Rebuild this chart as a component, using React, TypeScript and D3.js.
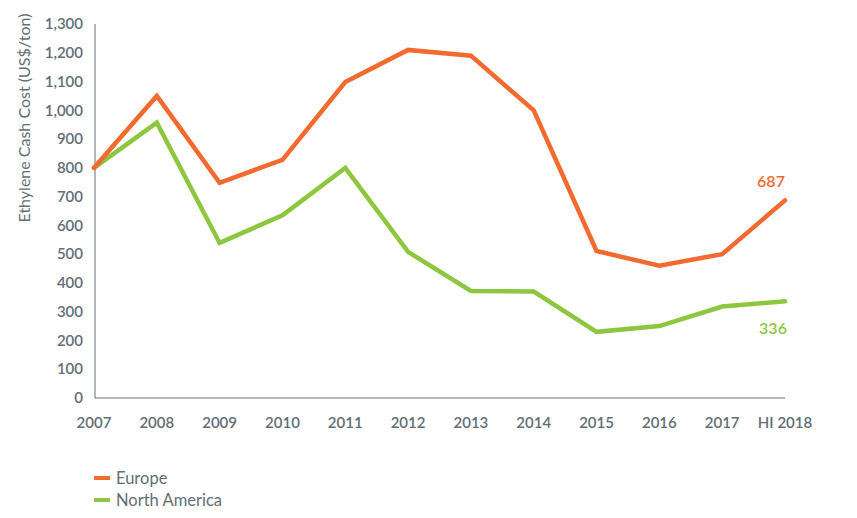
import React, { useEffect, useRef } from 'react';
import { select, scaleLinear, scalePoint, line, range } from 'd3';

const years = ['2007', '2008', '2009', '2010', '2011', '2012', '2013', '2014', '2015', '2016', '2017', 'HI 2018'];
const europe = [800, 1050, 748, 828, 1098, 1210, 1190, 1000, 511, 460, 500, 687];
const northAmerica = [800, 957, 539, 635, 800, 508, 372, 370, 230, 250, 318, 336];
const yTicks = range(0, 1301, 100);

const ORANGE = '#f26a2f';
const GREEN = '#8dc63f';
const GREY = '#626e76';
const FONT = 'Lato, "Open Sans", sans-serif';

export default function App() {
  const svgRef = useRef<SVGSVGElement>(null);

  useEffect(() => {
    if (!svgRef.current) return;
    const svg = select(svgRef.current);
    svg.selectAll('*').remove();

    const x = scalePoint<string>().domain(years).range([94, 785]);
    const y = scaleLinear().domain([0, 1300]).range([398, 24]);

    // axes
    svg.append('line').attr('x1', 95).attr('x2', 95).attr('y1', y(1300)).attr('y2', y(0))
      .attr('stroke', GREY).attr('stroke-width', 1);
    svg.append('line').attr('x1', 95).attr('x2', 785).attr('y1', y(0)).attr('y2', y(0))
      .attr('stroke', GREY).attr('stroke-width', 1);

    svg.append('g').selectAll('text').data(yTicks).join('text')
      .attr('x', 83).attr('y', d => y(d)).attr('dy', '0.35em')
      .attr('text-anchor', 'end').attr('fill', GREY)
      .attr('font-family', FONT).attr('font-size', 15).attr('font-weight', 600)
      .text(d => d.toLocaleString('en-US'));

    svg.append('g').selectAll('text').data(years).join('text')
      .attr('x', d => x(d)!).attr('y', 428)
      .attr('text-anchor', 'middle').attr('fill', GREY)
      .attr('font-family', FONT).attr('font-size', 15).attr('font-weight', 600)
      .text(d => d);

    svg.append('text')
      .attr('transform', 'translate(30,118) rotate(-90)')
      .attr('text-anchor', 'middle').attr('fill', GREY)
      .attr('font-family', FONT).attr('font-size', 16)
      .text('Ethylene Cash Cost (US$/ton)');

    const gen = line<number>().x((_, i) => x(years[i])!).y(d => y(d));

    [[northAmerica, GREEN], [europe, ORANGE]].forEach(([data, color]) => {
      svg.append('path').datum(data as number[])
        .attr('d', gen).attr('fill', 'none').attr('stroke', color as string)
        .attr('stroke-width', 4.5).attr('stroke-linejoin', 'miter').attr('stroke-linecap', 'round');
    });

    const last = years[years.length - 1];
    svg.append('text').attr('x', x(last)! - 14).attr('y', y(europe[europe.length - 1]) - 13)
      .attr('text-anchor', 'middle').attr('fill', ORANGE)
      .attr('font-family', FONT).attr('font-size', 16).attr('font-weight', 600)
      .text(String(europe[europe.length - 1]));
    svg.append('text').attr('x', x(last)! - 12).attr('y', y(northAmerica[northAmerica.length - 1]) + 33)
      .attr('text-anchor', 'middle').attr('fill', GREEN)
      .attr('font-family', FONT).attr('font-size', 16).attr('font-weight', 600)
      .text(String(northAmerica[northAmerica.length - 1]));

    // legend
    const legend = [['Europe', ORANGE], ['North America', GREEN]];
    legend.forEach(([label, color], i) => {
      const ly = 478 + i * 22;
      svg.append('line').attr('x1', 94).attr('x2', 110).attr('y1', ly).attr('y2', ly)
        .attr('stroke', color).attr('stroke-width', 4);
      svg.append('text').attr('x', 116).attr('y', ly).attr('dy', '0.35em')
        .attr('fill', GREY).attr('font-family', FONT).attr('font-size', 16.5)
        .text(label);
    });
  }, []);

  return (
    <div style={{ position: 'absolute', left: 0, top: 0, width: 857, height: 518, background: '#fff' }}>
      <svg ref={svgRef} width={857} height={518} />
    </div>
  );
}
